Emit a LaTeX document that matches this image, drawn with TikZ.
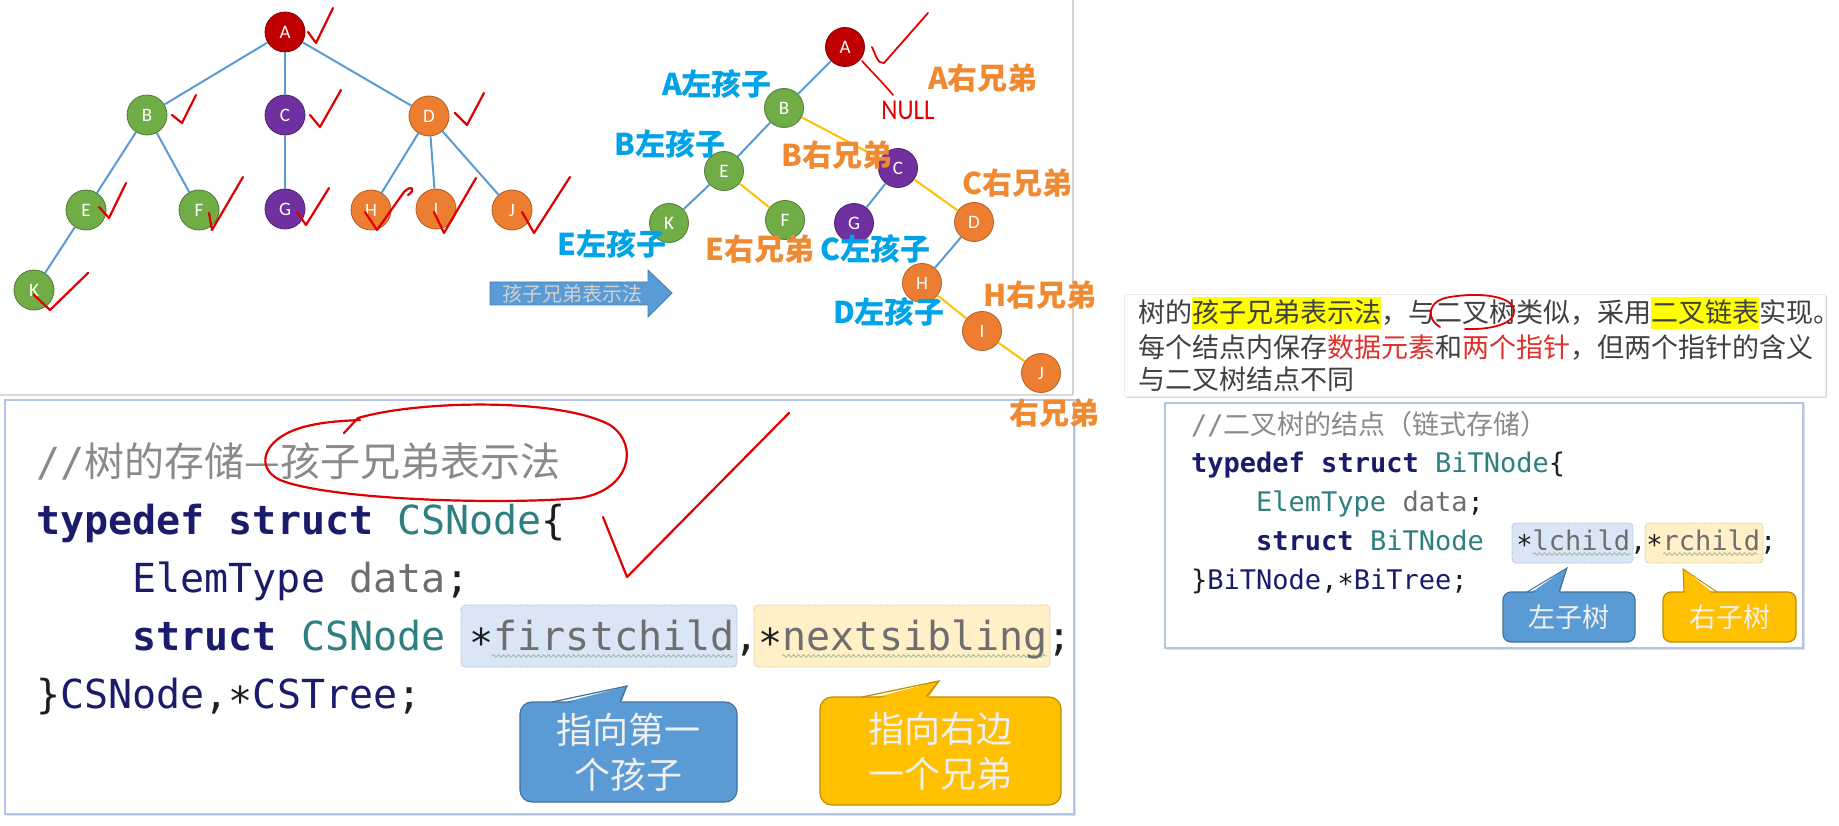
\documentclass[tikz,border=0pt]{standalone}
\usepackage{fontspec}
\setmonofont{DejaVu Sans Mono}
\newfontfamily\cjk{Noto Sans CJK SC}
\newfontfamily\carl{Carlito}
\usetikzlibrary{shadows,decorations.pathmorphing}
\newcommand\cstar{\raisebox{-0.18em}{*}}
\definecolor{nred}{HTML}{C00000}
\definecolor{ngreen}{HTML}{70AD47}
\definecolor{npurple}{HTML}{7030A0}
\definecolor{norange}{HTML}{ED7D31}
\definecolor{eblue}{HTML}{5B9BD5}
\definecolor{eyellow}{HTML}{FFC000}
\definecolor{lblue}{HTML}{00A2E8}
\definecolor{lorange}{HTML}{F08A32}
\definecolor{pen}{HTML}{E00000}
\definecolor{kw}{HTML}{1B1B6B}
\definecolor{ty}{HTML}{2E7F7F}
\definecolor{cm}{HTML}{8A8A8A}
\definecolor{vr}{HTML}{6E6E6E}
\definecolor{ink}{HTML}{1E1E1E}
\definecolor{hlb}{HTML}{DAE6F5}
\definecolor{hly}{HTML}{FFF0C8}
\definecolor{hlbd}{HTML}{8FA8C8}
\definecolor{hlyd}{HTML}{E0B070}
\definecolor{wavy}{HTML}{9CB89C}
\definecolor{boxb}{HTML}{B4C6E7}
\definecolor{cbblue}{HTML}{5B9BD5}
\definecolor{cbbluedk}{HTML}{41719C}
\definecolor{cbyel}{HTML}{FFC000}
\definecolor{cbyeldk}{HTML}{BC8C00}
\definecolor{txt}{HTML}{404040}
\definecolor{pred}{HTML}{E0302A}
\definecolor{hlyellow}{HTML}{FFFF00}
\tikzset{
  tn/.style={circle, minimum size=40pt, inner sep=0pt, text=white, font=\carl\fontsize{19}{19}\selectfont, line width=0.8pt},
  rtn/.style={tn, minimum size=39pt},
  gn/.style={fill=ngreen, draw=ngreen!70!black},
  pn/.style={fill=npurple, draw=npurple!70!black},
  on/.style={fill=norange, draw=norange!75!black},
  an/.style={fill=nred, draw=nred!70!black},
  tedge/.style={draw=eblue, line width=2pt},
  sedge/.style={draw=eyellow, line width=2pt},
  redpen/.style={draw=pen, line width=2.2pt, line cap=round, line join=round},
  lab/.style={inner sep=0pt, font=\cjk\bfseries\fontsize{30}{30}\selectfont},
  bl/.style={lab, text=lblue},
  ol/.style={lab, text=lorange},
  codeL/.style={anchor=base west, inner sep=0pt, text=ink, font=\ttfamily\fontsize{40}{40}\selectfont},
  codeR/.style={anchor=base west, inner sep=0pt, text=ink, font=\ttfamily\fontsize{27}{27}\selectfont},
  hlbox/.style={fill=hlb, draw=hlbd, densely dotted, line width=0.8pt, rounded corners=4pt},
  hlybox/.style={fill=hly, draw=hlyd, densely dotted, line width=0.8pt, rounded corners=4pt},
  squig/.style={draw=wavy, line width=0.8pt, decorate, decoration={snake, amplitude=1.3pt, segment length=5pt}},
  cbb/.style={fill=cbblue, draw=cbbluedk, line width=1.2pt, rounded corners=12pt, text=white!94!black, align=center, inner sep=0pt},
  cby/.style={fill=cbyel, draw=cbyeldk, line width=1.2pt, rounded corners=12pt, text=white!94!black, align=center, inner sep=0pt},
  rtext/.style={anchor=base west, inner sep=0pt, text=txt, font=\cjk\fontsize{27}{27}\selectfont}
}
\begin{document}
\begin{tikzpicture}[x=1pt,y=-1pt]
\useasboundingbox (0,0) rectangle (1839,826);
\fill[white] (0,0) rectangle (1839,826);
% top panel borders
\draw[gray!35, line width=1.5pt] (1073,0) -- (1073,395);
\draw[gray!30, line width=1.5pt] (0,395) -- (1073,395);

% ===== left tree =====
\node[tn,an] (lA) at (285,32) {A};
\node[tn,gn] (lB) at (147,115) {B};
\node[tn,pn] (lC) at (285,115) {C};
\node[tn,on] (lD) at (429,116) {D};
\node[tn,gn] (lE) at (86,210) {E};
\node[tn,gn] (lF) at (199,210) {F};
\node[tn,pn] (lG) at (285,209) {G};
\node[tn,on] (lH) at (371,210) {H};
\node[tn,on] (lI) at (436,209) {I};
\node[tn,on] (lJ) at (512,210) {J};
\node[tn,gn] (lK) at (34,290) {K};
\draw[tedge] (lA) -- (lB);
\draw[tedge] (lA) -- (lC);
\draw[tedge] (lA) -- (lD);
\draw[tedge] (lB) -- (lE);
\draw[tedge] (lB) -- (lF);
\draw[tedge] (lC) -- (lG);
\draw[tedge] (lD) -- (lH);
\draw[tedge] (lD) -- (lI);
\draw[tedge] (lD) -- (lJ);
\draw[tedge] (lE) -- (lK);
% checkmarks
\draw[redpen] (308,32) -- (316,43) -- (333,8);
\draw[redpen] (172,115) -- (182,123) -- (196,95);
\draw[redpen] (310,115) -- (320,127) -- (341,90);
\draw[redpen] (455,113) -- (467,125) -- (484,93);
\draw[redpen] (99,207) -- (109,218) -- (126,183);
\draw[redpen] (209,213) -- (212,230) -- (243,177);
\draw[redpen] (297,212) -- (306,225) -- (329,188);
\draw[redpen] (365,212) -- (377,230) -- (404,192) .. controls (412,184) and (416,190) .. (408,195);
\draw[redpen] (434,212) -- (444,233) -- (476,178);
\draw[redpen] (522,212) -- (534,233) -- (570,177);
\draw[redpen] (34,295) -- (50,310) -- (88,273);

% ===== block arrow =====
\filldraw[fill=eblue, draw=eblue!80!black, line width=0.8pt] (490,282) -- (648,282) -- (648,270) -- (672,293) -- (648,317) -- (648,305) -- (490,305) -- cycle;
\node[inner sep=0pt, text=white!82!black, font=\cjk\fontsize{20}{20}\selectfont] (arrtext) at (572,294) {孩子兄弟表示法};

% ===== right tree =====
\node[rtn,an] (rA) at (845,47) {A};
\node[rtn,gn] (rB) at (784,108) {B};
\node[rtn,gn] (rE) at (724,171) {E};
\node[rtn,gn] (rK) at (669,223) {K};
\node[rtn,gn] (rF) at (785,220) {F};
\node[rtn,pn] (rC) at (898,168) {C};
\node[rtn,pn] (rG) at (854,223) {G};
\node[rtn,on] (rD) at (974,222) {D};
\node[rtn,on] (rH) at (922,283) {H};
\node[rtn,on] (rI) at (982,331) {I};
\node[rtn,on] (rJ) at (1041,373) {J};
\draw[tedge] (rA) -- (rB);
\draw[tedge] (rB) -- (rE);
\draw[tedge] (rE) -- (rK);
\draw[tedge] (rC) -- (rG);
\draw[tedge] (rD) -- (rH);
\draw[sedge] (rB) -- (rC);
\draw[sedge] (rE) -- (rF);
\draw[sedge] (rC) -- (rD);
\draw[sedge] (rH) -- (rI);
\draw[sedge] (rI) -- (rJ);
% annotations on right tree
\draw[redpen, line width=1.8pt] (872,47) .. controls (876,56) and (878,64) .. (884,63) -- (928,13);
\draw[redpen, line width=1.6pt] (862,61) .. controls (872,72) and (884,84) .. (893,95);
\node[inner sep=0pt, text=pen, font=\carl\fontsize{25}{25}\selectfont, yscale=1.15] (null) at (908,110) {NULL};
% labels
\node[bl] (labAl) at (717,84) {A左孩子};
\node[ol] (labAr) at (983,78) {A右兄弟};
\node[bl] (labBl) at (670,144) {B左孩子};
\node[ol] (labBr) at (837,155) {B右兄弟};
\node[ol] (labCr) at (1017,183) {C右兄弟};
\node[bl] (labEl) at (612,244) {E左孩子};
\node[ol] (labEr) at (760,249) {E右兄弟};
\node[bl] (labCl) at (875,249) {C左孩子};
\node[ol] (labHr) at (1040,295) {H右兄弟};
\node[bl] (labDl) at (889,312) {D左孩子};

% ===== left code box =====
\filldraw[fill=white, draw=boxb, line width=2pt, drop shadow={opacity=0.25}] (5,400) rectangle (1074,814);
\node[ol] (labJr) at (1054,413) {右兄弟};
\draw[hlbox] (461,605) rectangle (737,667);
\draw[hlybox] (754,605) rectangle (1050,667);
\draw[squig] (492,656) -- (733,656);
\draw[squig] (782,656) -- (1047,656);
\node[codeL] (c1) at (36,476) {{\color{cm}//{\cjk 树的存储—孩子兄弟表示法}}};
\node[codeL] (c2) at (36,534) {{\color{kw}\bfseries typedef struct} {\color{ty}CSNode}\{};
\node[codeL] (c3) at (132.3,592) {{\color{kw}ElemType} {\color{vr}data};};
\node[codeL] (c4) at (132.3,650) {{\color{kw}\bfseries struct} {\color{ty}CSNode} \cstar{\color{vr}firstchild},\cstar{\color{vr}nextsibling};};
\node[codeL] (c5) at (36,708) {\}{\color{kw}CSNode},\cstar{\color{kw}CSTree};};
% callouts
\fill[cbblue] (551,706) -- (627,686) -- (620,706) -- cycle;
\node[cbb, minimum width=217pt, minimum height=100pt, font=\cjk\fontsize{36}{45}\selectfont] (cb1) at (628.5,752) {指向第一\\个孩子};
\fill[cbblue] (553,708) -- (627,686) -- (619,708) -- cycle;
\draw[cbbluedk, line width=1.2pt] (552,702) -- (627,686) -- (620,702);
\fill[cbyel] (861,701) -- (939,681) -- (926,701) -- cycle;
\node[cby, minimum width=241pt, minimum height=108pt, font=\cjk\fontsize{36}{45}\selectfont] (cb2) at (940.5,751) {指向右边\\一个兄弟};
\fill[cbyel] (863,703) -- (939,681) -- (925,703) -- cycle;
\draw[cbyeldk, line width=1.2pt] (862,697) -- (939,681) -- (926,697);
% red annotations
\draw[redpen] (344,433) -- (358,418) .. controls (420,400) and (560,398) .. (610,425) .. controls (640,445) and (630,490) .. (580,498) .. controls (500,505) and (330,500) .. (280,480) .. controls (255,468) and (262,440) .. (300,428) .. controls (320,422) and (340,421) .. (360,420);
\draw[redpen] (603,517) -- (627,577) -- (789,413);

% ===== right text box =====
\filldraw[fill=white, draw=gray!15, line width=0.8pt, drop shadow={opacity=0.3}] (1124,294) rectangle (1825,396);
\fill[hlyellow] (1192,297) rectangle (1381,329);
\fill[hlyellow] (1651,297) rectangle (1759,329);
\node[rtext] (t1) at (1138,323) {树的孩子兄弟表示法，与二叉树类似，采用二叉链表实现。};
\node[rtext] (t2) at (1138,357) {每个结点内保存{\color{pred}数据元素}和{\color{pred}两个指针}，但两个指针的含义};
\node[rtext] (t3) at (1138,389) {与二叉树结点不同};
\draw[redpen, line width=1.8pt] (1440,327) .. controls (1425,318) and (1428,300) .. (1450,297) .. controls (1480,292) and (1512,296) .. (1514,310) .. controls (1516,324) and (1490,330) .. (1465,329);

% ===== right code box =====
\filldraw[fill=white, draw=boxb, line width=1.6pt, drop shadow={opacity=0.25}] (1165,403) rectangle (1803,648);
\draw[hlbox] (1512,523) rectangle (1633,563);
\draw[hlybox] (1645,523) rectangle (1763,563);
\draw[squig] (1533,554) -- (1631,554);
\draw[squig] (1663,554) -- (1758,554);
\node[codeR] (r1) at (1191,434) {{\color{cm}//{\cjk 二叉树的结点（链式存储）}}};
\node[codeR] (r2) at (1191,472) {{\color{kw}\bfseries typedef struct} {\color{ty}BiTNode}\{};
\node[codeR] (r3) at (1256,511) {{\color{ty}ElemType} {\color{vr}data};};
\node[codeR] (r4) at (1256,550) {{\color{kw}\bfseries struct} {\color{ty}BiTNode}~~\cstar{\color{vr}lchild},\cstar{\color{vr}rchild};};
\node[codeR] (r5) at (1191,589) {\}{\color{kw}BiTNode},\cstar{\color{kw}BiTree};};
% small callouts
\fill[cbblue] (1526,596) -- (1567,568) -- (1559,596) -- cycle;
\node[cbb, rounded corners=8pt, minimum width=132pt, minimum height=50pt, font=\cjk\fontsize{27}{27}\selectfont] (cb3) at (1569,617) {左子树};
\fill[cbblue] (1528,597) -- (1567,568) -- (1558,597) -- cycle;
\draw[cbbluedk, line width=1pt] (1527,592) -- (1567,568) -- (1559,592);
\fill[cbyel] (1684,596) -- (1683,569) -- (1717,596) -- cycle;
\node[cby, rounded corners=8pt, minimum width=133pt, minimum height=50pt, font=\cjk\fontsize{27}{27}\selectfont] (cb4) at (1729.5,617) {右子树};
\fill[cbyel] (1685,597) -- (1683,569) -- (1716,597) -- cycle;
\draw[cbyeldk, line width=1pt] (1684,592) -- (1683,569) -- (1717,592);
\end{tikzpicture}
\end{document}
